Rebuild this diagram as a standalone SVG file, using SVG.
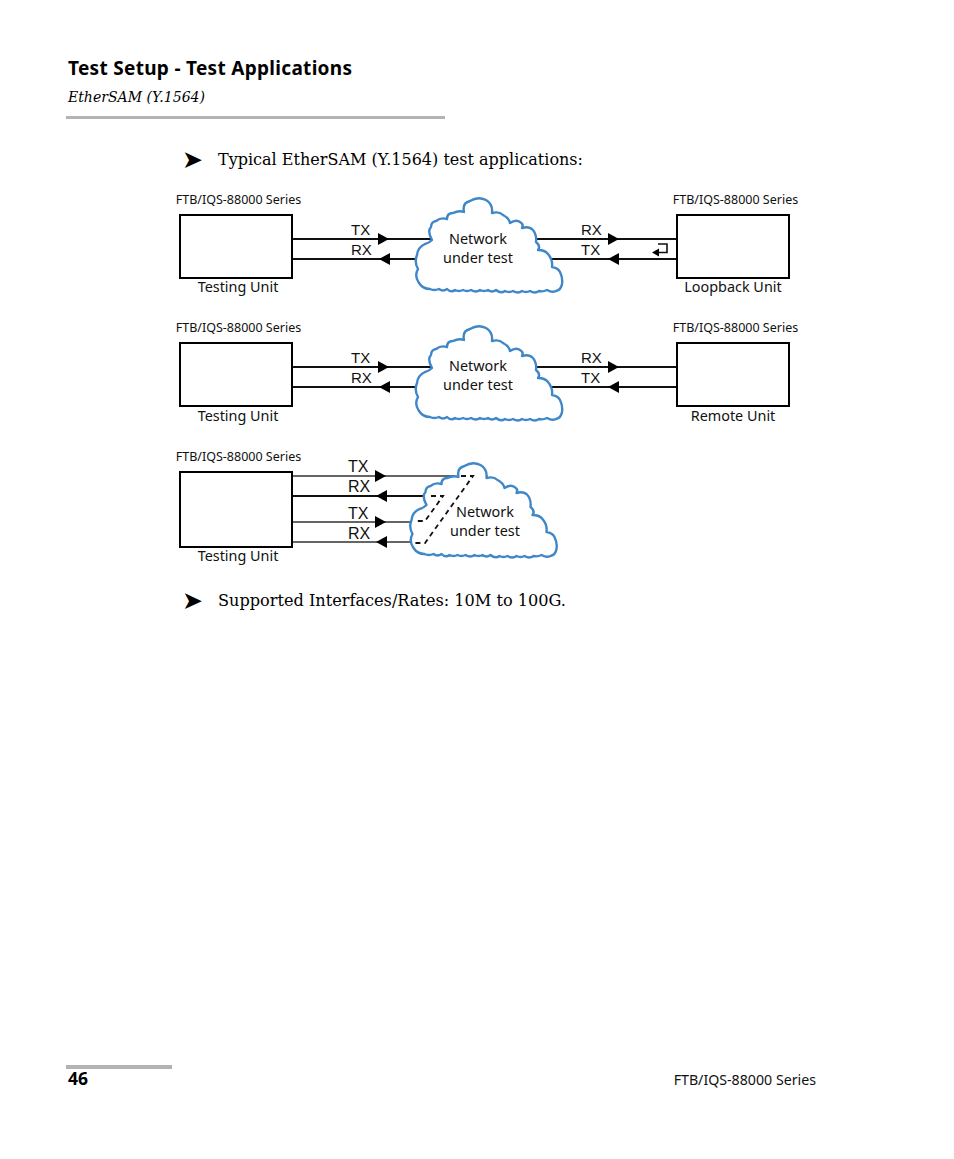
<svg xmlns="http://www.w3.org/2000/svg" xmlns:xlink="http://www.w3.org/1999/xlink" width="954" height="1159" viewBox="0 0 954 1159">
<style>
.box{fill:#fff;stroke:#000;stroke-width:2}
.cloud{fill:#fff;stroke:#3f87c9;stroke-width:2.4;stroke-linejoin:round}
.ln{fill:none;stroke:#111;stroke-width:2}
.thin{stroke-width:1.6;stroke:#333}
.dash{fill:none;stroke:#111;stroke-width:1.8;stroke-dasharray:5 4}
.ah{fill:#000}
.s{font-family:"Noto Sans","Open Sans",sans-serif;fill:#111}
.cap{font-size:12.5px}
.unit{font-size:14.4px}
.sig{font-family:"Liberation Sans",Arial,sans-serif;font-size:15px;fill:#111}
.sig3{font-size:16px}
.body{font-family:"DejaVu Serif","Liberation Serif",serif;fill:#000}
.bullet{font-family:"DejaVu Sans",sans-serif;font-size:25px}
</style>
<defs>
<path id="cl" class="cloud" d="M432 240Q427 231 431 227Q431 222 436 221Q441 217 447 219Q447 213 453 213Q459 210 464 212Q462 203 470 201Q478 196 486 200Q493 204 492 213Q499 211 503 215Q509 218 510 223Q516 219 520 222Q524 224 522 228Q528 226 532 229Q537 234 536 242Q541 246 538 250Q545 250 548 254Q553 260 552 267Q558 268 560 272Q563 278 562 284Q561 290 556 291Q552 293 547 290Q543 292 539 291Q535 294 530 291Q526 293 522 291Q518 294 513 291Q509 293 505 291Q501 294 496 290Q492 293 488 290Q484 292 480 290Q476 293 471 290Q467 292 463 290Q459 292 455 290Q451 293 447 289Q443 292 439 289Q434 291 430 289Q423 289 419 283Q414 276 418 269Q414 262 417 255Q418 247 425 244Q429 243 432 240Z"/>
<path id="ar" class="ah" d="M0 -6L11 0L0 6Z"/>
<path id="al" class="ah" d="M0 -6L-11 0L0 6Z"/>
</defs>
<rect width="954" height="1159" fill="#fff"/>

<g id="page-header">
<text x="68" y="75" class="s" font-size="19" font-weight="700" style="fill:#000" textLength="284">Test Setup - Test Applications</text>
<text x="68" y="102" class="body" font-size="15" font-style="italic" textLength="137" lengthAdjust="spacingAndGlyphs">EtherSAM (Y.1564)</text>
<rect x="66" y="116" width="379" height="3" fill="#b3b3b3"/>
</g>
<g id="intro">
<text x="182" y="168" class="bullet">➤</text>
<text x="218" y="165" class="body" font-size="17" textLength="365" lengthAdjust="spacingAndGlyphs">Typical EtherSAM (Y.1564) test applications:</text>
</g>

<g id="connectors">
<path class="ln" d="M293 239H440M293 259H425M530 239H677M545 259H677"/>
<path class="ln" d="M293 367H440M293 387H425M530 367H677M545 387H677"/>
<path class="ln thin" d="M293 476H455M293 542H420M293 522H420"/>
<path class="ln" d="M293 496H435"/>
<use xlink:href="#ar" href="#ar" x="378" y="239"/><use href="#al" x="390" y="259" xlink:href="#al"/>
<use href="#ar" x="608" y="239" xlink:href="#ar"/><use href="#al" x="619" y="259" xlink:href="#al"/>
<use href="#ar" x="378" y="367" xlink:href="#ar"/><use href="#al" x="390" y="387" xlink:href="#al"/>
<use href="#ar" x="608" y="367" xlink:href="#ar"/><use href="#al" x="619" y="387" xlink:href="#al"/>
<use href="#ar" x="375" y="476" xlink:href="#ar"/><use href="#al" x="387" y="496" xlink:href="#al"/>
<use href="#ar" x="375" y="522" xlink:href="#ar"/><use href="#al" x="387" y="542" xlink:href="#al"/>
<path class="ln" style="stroke-width:1.6" d="M658 244H667V252.500H658"/>
<path class="ah" d="M652 252.500L659 248.500V256.500Z"/>
</g>

<g id="cloud-1"><use href="#cl" xlink:href="#cl"/><text x="478" y="244" text-anchor="middle" class="s unit">Network</text><text x="478" y="263" text-anchor="middle" class="s unit">under test</text></g>
<g id="cloud-2"><use href="#cl" xlink:href="#cl" y="128"/><text x="478" y="371" text-anchor="middle" class="s unit">Network</text><text x="478" y="390" text-anchor="middle" class="s unit">under test</text></g>
<g id="cloud-3"><use href="#cl" xlink:href="#cl" x="-5.500" y="265"/><text x="485" y="517" text-anchor="middle" class="s unit">Network</text><text x="485" y="536" text-anchor="middle" class="s unit">under test</text>
<path class="dash" d="M461 476H473L425 543H414M431 496H443L425 521H414"/></g>

<g id="testing-unit-1"><text x="238.500" y="204" text-anchor="middle" class="s cap">FTB/IQS-88000 Series</text><rect x="180" y="215" width="112" height="63" class="box"/><text x="238" y="292" text-anchor="middle" class="s unit">Testing Unit</text></g>
<g id="loopback-unit"><text x="735.500" y="204" text-anchor="middle" class="s cap">FTB/IQS-88000 Series</text><rect x="677" y="215" width="112" height="63" class="box"/><text x="733" y="292" text-anchor="middle" class="s unit">Loopback Unit</text></g>
<g id="testing-unit-2"><text x="238.500" y="332" text-anchor="middle" class="s cap">FTB/IQS-88000 Series</text><rect x="180" y="343" width="112" height="63" class="box"/><text x="238" y="421" text-anchor="middle" class="s unit">Testing Unit</text></g>
<g id="remote-unit"><text x="735.500" y="332" text-anchor="middle" class="s cap">FTB/IQS-88000 Series</text><rect x="677" y="343" width="112" height="63" class="box"/><text x="733" y="421" text-anchor="middle" class="s unit">Remote Unit</text></g>
<g id="testing-unit-3"><text x="238.500" y="461" text-anchor="middle" class="s cap">FTB/IQS-88000 Series</text><rect x="180" y="472" width="112" height="75" class="box"/><text x="238" y="561" text-anchor="middle" class="s unit">Testing Unit</text></g>

<g id="signal-labels">
<text x="351" y="235" class="sig">TX</text><text x="351" y="255" class="sig">RX</text>
<text x="581" y="235" class="sig">RX</text><text x="581" y="255" class="sig">TX</text>
<text x="351" y="363" class="sig">TX</text><text x="351" y="383" class="sig">RX</text>
<text x="581" y="363" class="sig">RX</text><text x="581" y="383" class="sig">TX</text>
<text x="348" y="472" class="sig sig3">TX</text><text x="348" y="492" class="sig sig3">RX</text>
<text x="348" y="519" class="sig sig3">TX</text><text x="348" y="539" class="sig sig3">RX</text>
</g>

<g id="footer-note">
<text x="182" y="609" class="bullet">➤</text>
<text x="218" y="606" class="body" font-size="17" textLength="348" lengthAdjust="spacingAndGlyphs">Supported Interfaces/Rates: 10M to 100G.</text>
</g>
<g id="page-footer">
<rect x="66" y="1065" width="106" height="4" fill="#b3b3b3"/>
<text x="68" y="1085" class="s" font-size="17.500" font-weight="700" style="fill:#000">46</text>
<text x="816" y="1085" text-anchor="end" class="s" font-size="14.200">FTB/IQS-88000 Series</text>
</g>
</svg>
